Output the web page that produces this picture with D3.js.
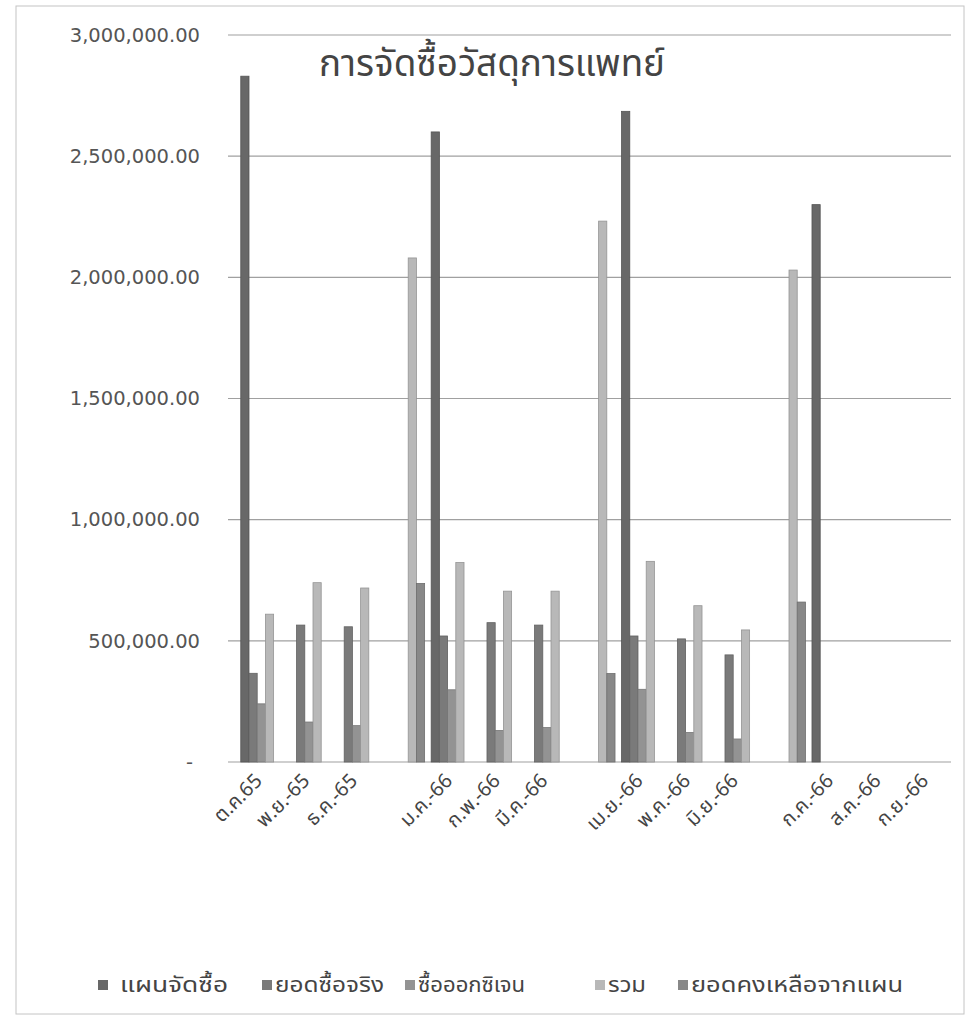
<!DOCTYPE html>
<html>
<head>
<meta charset="utf-8">
<script src="https://cdn.jsdelivr.net/npm/d3@7"></script>
<style>
  body { margin: 0; background: #fff; }
  svg text { font-family: "Noto Sans Thai", "Tahoma", "Noto Sans", "DejaVu Sans", sans-serif; }
</style>
</head>
<body>
<div id="chart"></div>
<script>
// categories (blank slots hold the quarter totals)
const months = ["ต.ค.65", "พ.ย.-65", "ธ.ค.-65", "", "ม.ค.-66", "ก.พ.-66", "มี.ค.-66", "",
                "เม.ย.-66", "พ.ค.-66", "มิ.ย.-66", "", "ก.ค.-66", "ส.ค.-66", "ก.ย.-66"];
const seriesNames = ["แผนจัดซื้อ", "ยอดซื้อจริง", "ซื้อออกซิเจน", "รวม", "ยอดคงเหลือจากแผน"];

const plan      = [2830000, null, null, null, 2600000, null, null, null, 2685000, null, null, null, 2300000, null, null];
const actual    = [366000, 565000, 558000, null, 520000, 575000, 565000, null, 520000, 508000, 442000, null, null, null, null];
const oxygen    = [240000, 165000, 150000, null, 298000, 130000, 142000, null, 300000, 122000, 95000, null, null, null, null];
const total     = [610000, 740000, 718000, 2080000, 823000, 705000, 705000, 2232000, 828000, 645000, 545000, 2030000, null, null, null];
const remaining = [null, null, null, 737000, null, null, null, 365000, null, null, null, 660000, null, null, null];

const yTicks = [0, 500000, 1000000, 1500000, 2000000, 2500000, 3000000];

const width = 969;
const height = 1018;
const colors = ["#686868", "#7a7a7a", "#939393", "#b8b8b8", "#888888"];
const allSeries = [plan, actual, oxygen, total, remaining];

const svg = d3.select("#chart").append("svg")
    .attr("width", width)
    .attr("height", height);

// chart area border
svg.append("rect")
    .attr("x", 16).attr("y", 6)
    .attr("width", 948).attr("height", 1008)
    .attr("fill", "none")
    .attr("stroke", "#c4c4c4");

const x = d3.scaleBand().domain(d3.range(months.length)).range([237.5, 951.5]);
const bw = x.bandwidth();
const gap = bw * 0.4 / 5.8;   // ~80% gap width, split both sides
const xs = d3.scaleBand().domain(d3.range(seriesNames.length)).range([gap, bw - gap]);
const y = d3.scaleLinear().domain([0, 3000000]).range([762, 35]);

// gridlines
svg.append("g").selectAll("line")
    .data(yTicks)
    .join("line")
    .attr("x1", 228).attr("x2", 951)
    .attr("y1", d => y(d)).attr("y2", d => y(d))
    .attr("stroke", "#a0a0a0")
    .attr("stroke-width", 1.2);

// y labels
const fmt = d3.format(",.2f");
svg.append("g").selectAll("text")
    .data(yTicks)
    .join("text")
    .attr("x", d => d === 0 ? 193 : 200)
    .attr("y", d => y(d))
    .attr("dy", "0.35em")
    .attr("text-anchor", "end")
    .attr("fill", "#555")
    .style("font-family", "'DejaVu Sans', sans-serif")
    .style("font-size", "19.5px")
    .text(d => d === 0 ? "-" : fmt(d));

// bars
const barData = [];
allSeries.forEach((vals, s) => {
    vals.forEach((v, i) => { if (v != null) barData.push({ s, i, v }); });
});

svg.append("g").selectAll("rect")
    .data(barData)
    .join("rect")
    .attr("x", d => x(d.i) + xs(d.s))
    .attr("y", d => y(d.v))
    .attr("width", xs.bandwidth())
    .attr("height", d => y(0) - y(d.v))
    .attr("fill", d => colors[d.s])
    .attr("stroke", d => d3.color(colors[d.s]).darker(0.6))
    .attr("stroke-width", 0.8);

// x labels
svg.append("g").selectAll("text")
    .data(months.map((m, i) => ({ m, i })).filter(d => d.m !== ""))
    .join("text")
    .attr("transform", d => `translate(${x(d.i) + bw / 2 + 2},${782}) rotate(-45)`)
    .attr("text-anchor", "end")
    .attr("fill", "#444")
    .style("font-size", "20px")
    .text(d => d.m);

// title
svg.append("text")
    .attr("x", 492).attr("y", 76)
    .attr("text-anchor", "middle")
    .attr("fill", "#444")
    .style("font-size", "37px")
    .attr("textLength", 346)
    .attr("lengthAdjust", "spacingAndGlyphs")
    .text("การจัดซื้อวัสดุการแพทย์");

// legend
const legendX = [98, 262, 405, 595, 678];
const legendW = [108, 109, 107, 38, 212];
const legend = svg.append("g").selectAll("g")
    .data(seriesNames)
    .join("g")
    .attr("transform", (d, i) => `translate(${legendX[i]},985)`);

legend.append("rect")
    .attr("x", 0).attr("y", -5)
    .attr("width", 10).attr("height", 10)
    .attr("fill", (d, i) => colors[i]);

legend.append("text")
    .attr("x", (d, i) => i === 0 ? 22 : 13)
    .attr("dy", "0.35em")
    .attr("fill", "#444")
    .style("font-size", "21px")
    .attr("textLength", (d, i) => legendW[i])
    .attr("lengthAdjust", "spacingAndGlyphs")
    .text(d => d);
</script>
</body>
</html>
